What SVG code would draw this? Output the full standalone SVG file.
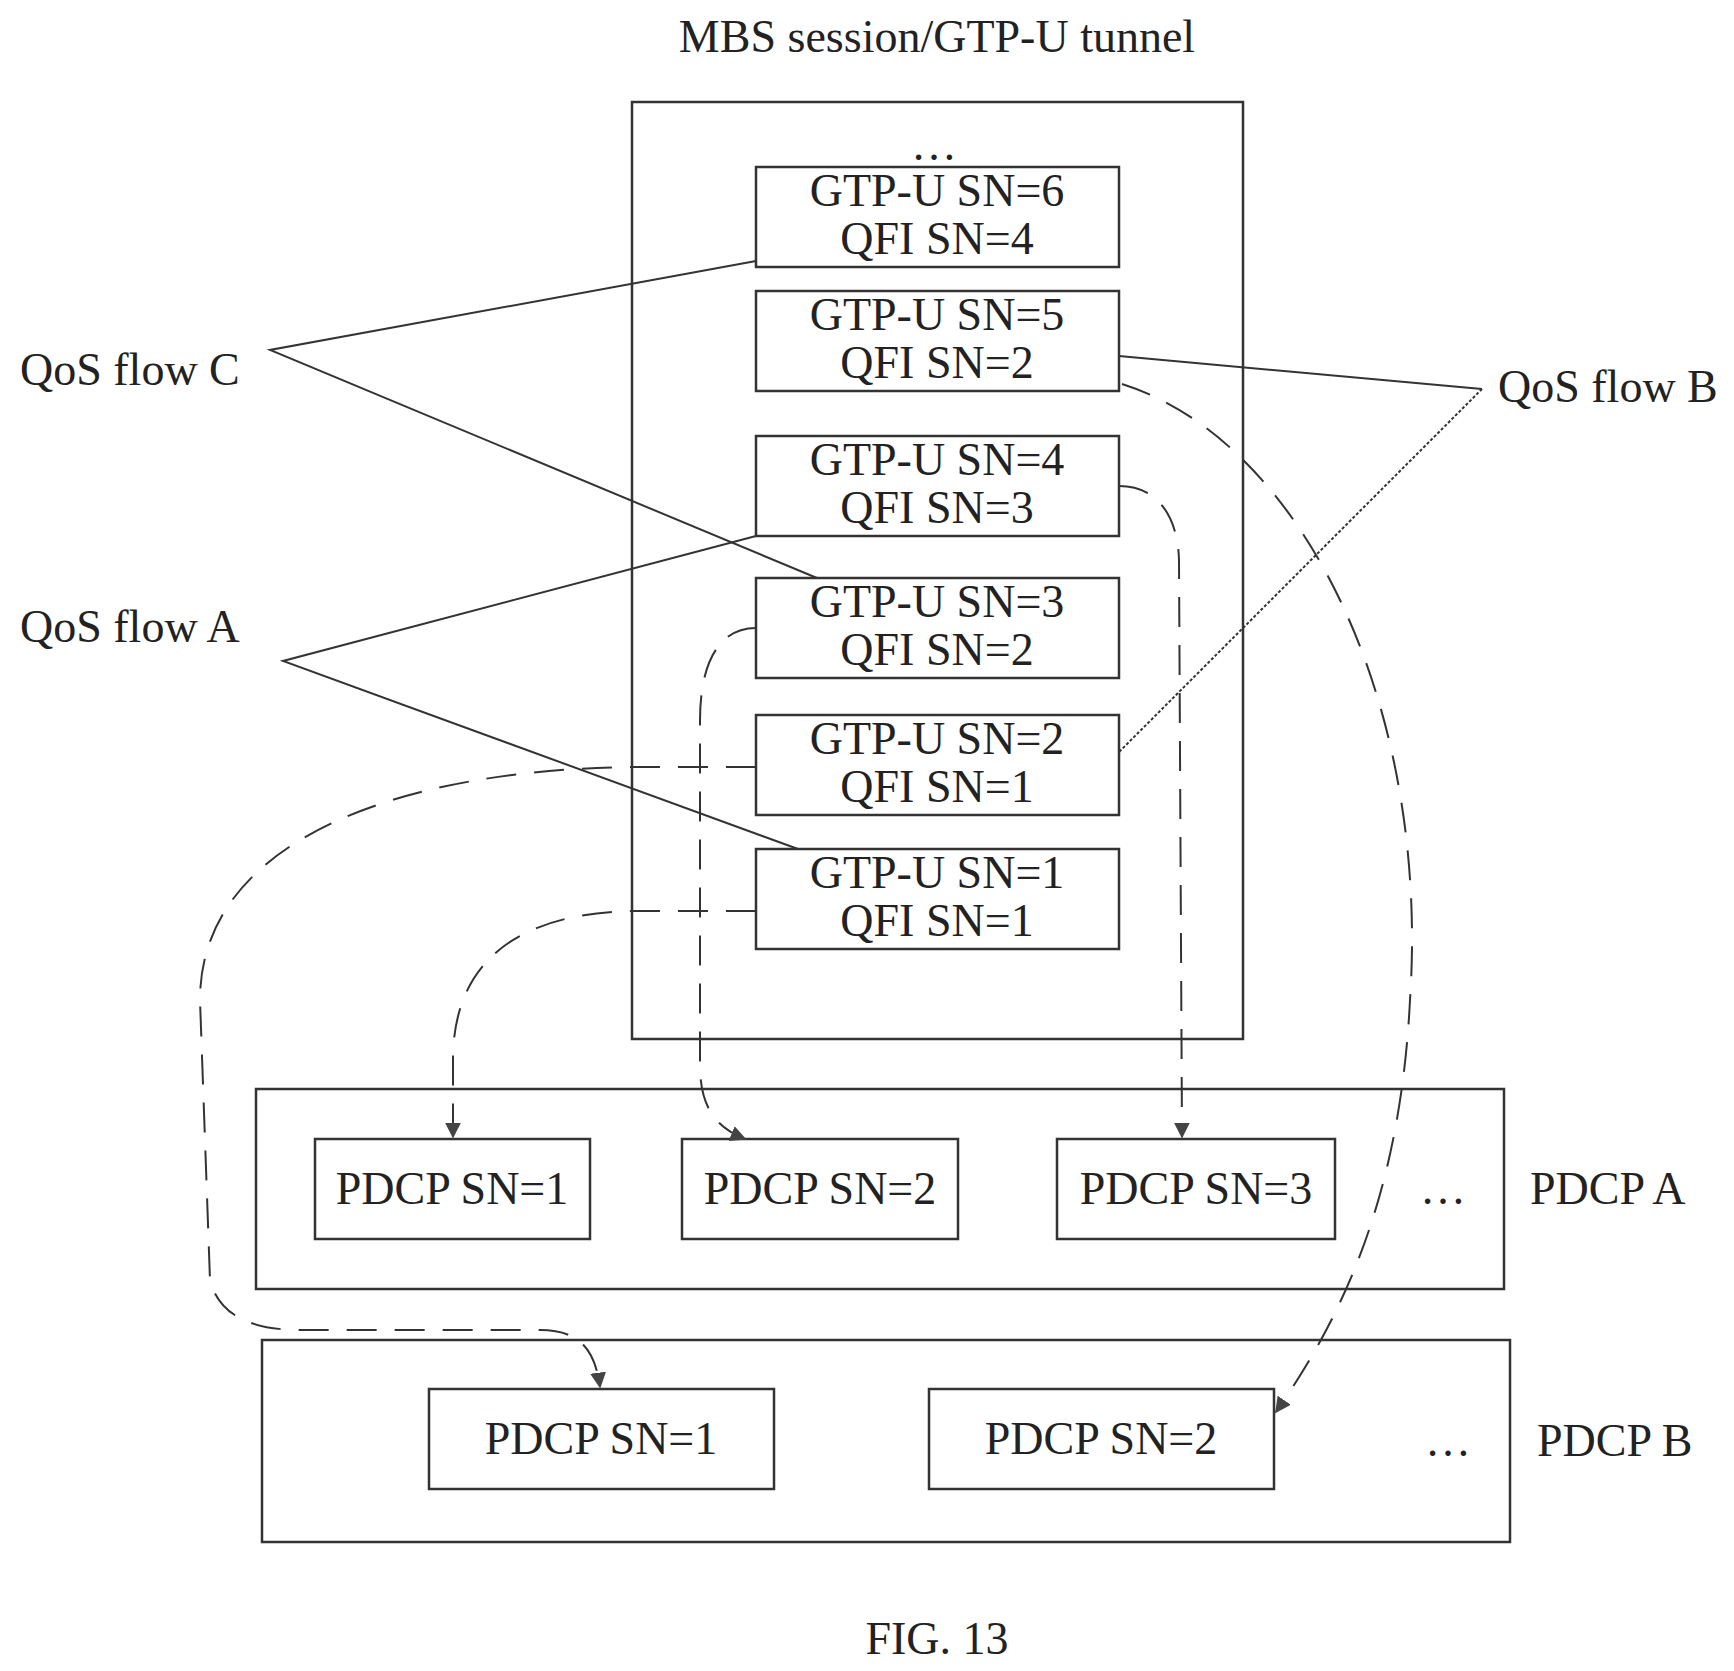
<svg xmlns="http://www.w3.org/2000/svg" width="1734" height="1671" viewBox="0 0 1734 1671">
<style>
text{font-family:"Liberation Serif","Times New Roman",serif;fill:#222;font-size:46px}
.c{text-anchor:middle}
rect{fill:none;stroke:#333;stroke-width:2.5}
.l{fill:none;stroke:#333;stroke-width:2}
.d{fill:none;stroke:#333;stroke-width:2;stroke-dasharray:30 18}
</style>
<defs><marker id="ah" viewBox="0 0 10 10" refX="9" refY="5" markerWidth="16" markerHeight="16" markerUnits="userSpaceOnUse" orient="auto"><path d="M0,0 L10,5 L0,10 z" fill="#444"/></marker></defs>
<rect fill="#fff" width="1734" height="1671" style="fill:#fff;stroke:none"/>
<text class="c" x="937" y="52" font-size="42">MBS session/GTP-U tunnel</text>
<g id="main"><rect x="632" y="102" width="611" height="937"/><text class="c" x="934" y="160" font-size="30">…</text></g>
<g id="g6"><rect x="756" y="167" width="363" height="100"/><text class="c" x="937" y="206">GTP-U SN=6</text><text class="c" x="937" y="254">QFI SN=4</text></g>
<g id="g5"><rect x="756" y="291" width="363" height="100"/><text class="c" x="937" y="330">GTP-U SN=5</text><text class="c" x="937" y="378">QFI SN=2</text></g>
<g id="g4"><rect x="756" y="436" width="363" height="100"/><text class="c" x="937" y="475">GTP-U SN=4</text><text class="c" x="937" y="523">QFI SN=3</text></g>
<g id="g3"><rect x="756" y="578" width="363" height="100"/><text class="c" x="937" y="617">GTP-U SN=3</text><text class="c" x="937" y="665">QFI SN=2</text></g>
<g id="g2"><rect x="756" y="715" width="363" height="100"/><text class="c" x="937" y="754">GTP-U SN=2</text><text class="c" x="937" y="802">QFI SN=1</text></g>
<g id="g1"><rect x="756" y="849" width="363" height="100"/><text class="c" x="937" y="888">GTP-U SN=1</text><text class="c" x="937" y="936">QFI SN=1</text></g>
<g id="qc"><text x="20" y="385">QoS flow C</text></g>
<g id="qa"><text x="20" y="642">QoS flow A</text></g>
<g id="qb"><text x="1498" y="402">QoS flow B</text></g>
<g id="pa"><rect x="256" y="1089" width="1248" height="200"/><text x="1420" y="1204">…</text><text x="1530" y="1204">PDCP A</text></g>
<g id="pa1"><rect x="315" y="1139" width="275" height="100"/><text class="c" x="452" y="1204">PDCP SN=1</text></g>
<g id="pa2"><rect x="682" y="1139" width="276" height="100"/><text class="c" x="820" y="1204">PDCP SN=2</text></g>
<g id="pa3"><rect x="1057" y="1139" width="278" height="100"/><text class="c" x="1196" y="1204">PDCP SN=3</text></g>
<g id="pb"><rect x="262" y="1340" width="1248" height="202"/><text x="1425" y="1456" font-size="30">…</text><text x="1537" y="1456">PDCP B</text></g>
<g id="pb1"><rect x="429" y="1389" width="345" height="100"/><text class="c" x="601" y="1454">PDCP SN=1</text></g>
<g id="pb2"><rect x="929" y="1389" width="345" height="100"/><text class="c" x="1101" y="1454">PDCP SN=2</text></g>
<text class="c" x="937" y="1654" font-size="52">FIG. 13</text>
<g id="connectors">
<path class="l" d="M756,261 L270,350 L817,578"/>
<path class="l" d="M756,536 L283,661 L798,849"/>
<path class="l" d="M1119,356 L1482,389"/>
<path class="l" stroke-dasharray="3 2" d="M1482,389 L1119,752"/>
<path class="d" marker-end="url(#ah)" d="M756,911 L640,911 C520,911 453,960 453,1060 L453,1137"/>
<path class="d" marker-end="url(#ah)" d="M756,628 C715,628 700,670 700,720 L700,1065 C700,1110 718,1128 745,1139"/>
<path class="d" marker-end="url(#ah)" d="M1119,486 C1160,486 1178,520 1179,560 L1182,1137"/>
<path class="d" marker-end="url(#ah)" d="M1122,384 C1300,440 1430,700 1410,1000 C1400,1200 1340,1320 1276,1412"/>
<path class="d" marker-end="url(#ah)" d="M756,767 L630,767 C400,770 200,840 200,1000 L210,1280 C220,1320 260,1330 300,1330 L540,1330 C580,1330 595,1350 600,1387"/>
</g>
</svg>
